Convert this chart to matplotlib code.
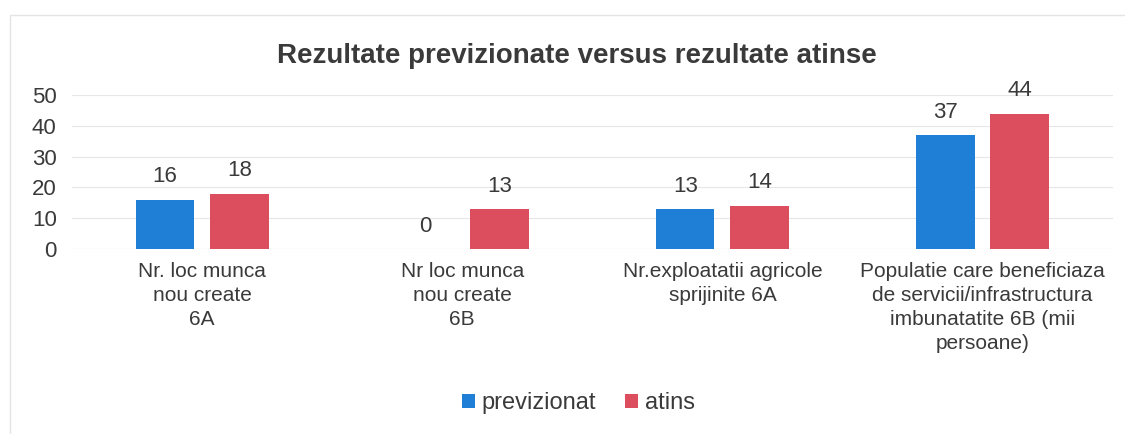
import numpy as np
import matplotlib.pyplot as plt
from matplotlib.patches import Rectangle

plt.rcParams['font.family'] = ['Liberation Sans', 'DejaVu Sans']

categories = [
    "Nr. loc munca\nnou create\n6A",
    "Nr loc munca\nnou create\n6B",
    "Nr.exploatatii agricole\nsprijinite 6A",
    "Populatie care beneficiaza\nde servicii/infrastructura\nimbunatatite 6B (mii\npersoane)",
]
previzionat = [16, 0, 13, 37]
atins = [18, 13, 14, 44]
yticks = [0, 10, 20, 30, 40, 50]

blue = "#1f7fd6"
red = "#dc4e5e"
text_col = "#3a3a3a"

fig = plt.figure(figsize=(11.25, 4.34), dpi=100)
ax = fig.add_axes([0.064, 0.426, 0.925, 0.355])

x = np.arange(len(categories))
w = 0.225
b1 = ax.bar(x - 0.143, previzionat, w, color=blue, label="previzionat")
b2 = ax.bar(x + 0.143, atins, w, color=red, label="atins")
for bars in (b1, b2):
    for r in bars:
        h = r.get_height()
        ax.annotate(f"{h:g}", (r.get_x() + r.get_width() / 2, h), xytext=(0, 9),
                    textcoords="offset points", ha="center", va="bottom",
                    fontsize=16, color=text_col)

ax.set_xlim(-0.5, len(categories) - 0.5)
ax.set_ylim(0, 50)
ax.set_yticks(yticks)
ax.set_yticklabels([str(t) for t in yticks], fontsize=16, color=text_col)
ax.set_xticks(x)
ax.set_xticklabels(categories, fontsize=15, color=text_col, linespacing=1.35)
ax.tick_params(axis="both", length=0)
ax.tick_params(axis="x", pad=9)
ax.tick_params(axis="y", pad=11)
ax.grid(axis="y", color="#e6e6e6", linewidth=0.8)
ax.set_axisbelow(True)
for s in ax.spines.values():
    s.set_visible(False)
ax.axhline(0, color="#dcdcdc", linewidth=0.8, zorder=0)

fig.text(0.513, 0.872, "Rezultate previzionate versus rezultate atinse", ha="center", va="center",
         fontsize=20, fontweight="bold", color=text_col)

fig.legend(handles=[b1, b2], loc="center", bbox_to_anchor=(0.514, 0.071), ncol=2, frameon=False,
           fontsize=17, handlelength=0.55, handleheight=0.55, handletextpad=0.3, columnspacing=1.2,
           labelcolor=text_col)

# faint frame of the scanned chart area
fig.patches.append(Rectangle((0.009, -0.02), 1.2, 0.985, transform=fig.transFigure,
                             fill=False, edgecolor="#e4e4e4", linewidth=1))

fig.savefig("out.png", dpi=100)
